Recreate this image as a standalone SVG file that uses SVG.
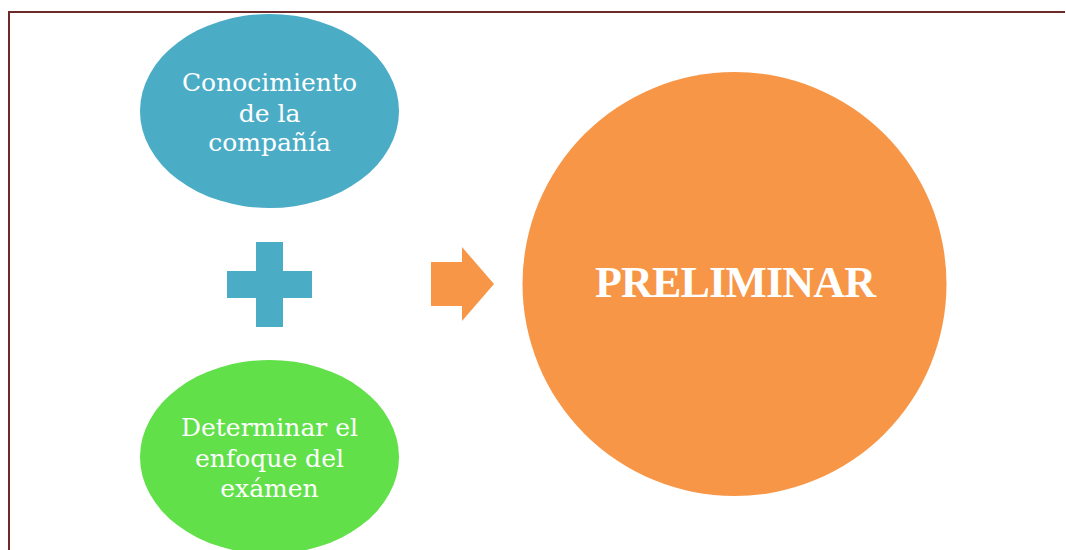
<svg xmlns="http://www.w3.org/2000/svg" width="1066" height="550" viewBox="0 0 1066 550">
<style>
.lbl{font-family:"DejaVu Serif","Liberation Serif",serif;font-size:25px;fill:#ffffff;text-anchor:middle}
.big{font-family:"Liberation Serif","DejaVu Serif",serif;font-size:44px;font-weight:bold;fill:#ffffff;text-anchor:middle}
</style>
<rect x="0" y="0" width="1066" height="550" fill="#ffffff"/>
<path d="M9 550 V12 H1065" fill="none" stroke="#6e2a2a" stroke-width="2"/>
<g id="node-conocimiento">
<ellipse cx="269.5" cy="111" rx="129.5" ry="97" fill="#4bacc6"/>
<text class="lbl" x="269.5" y="91">Conocimiento</text>
<text class="lbl" x="269.5" y="121.5">de la</text>
<text class="lbl" x="269.5" y="151">compañía</text>
</g>
<g id="node-plus">
<path d="M256 242 H283 V271 H312 V298 H283 V327 H256 V298 H227 V271 H256 Z" fill="#4bacc6"/>
</g>
<g id="node-enfoque">
<ellipse cx="269.5" cy="457" rx="129.5" ry="97" fill="#61e04a"/>
<text class="lbl" x="269.5" y="436">Determinar el</text>
<text class="lbl" x="269.5" y="466.5">enfoque del</text>
<text class="lbl" x="269.5" y="496.5">exámen</text>
</g>
<g id="connectors">
<path d="M431 262 H462 V247 L494 284 L462 321 V306 H431 Z" fill="#f79646"/>
</g>
<g id="node-preliminar">
<circle cx="734.5" cy="284" r="212" fill="#f79646"/>
<text class="big" x="735.5" y="297" textLength="281">PRELIMINAR</text>
</g>
</svg>
